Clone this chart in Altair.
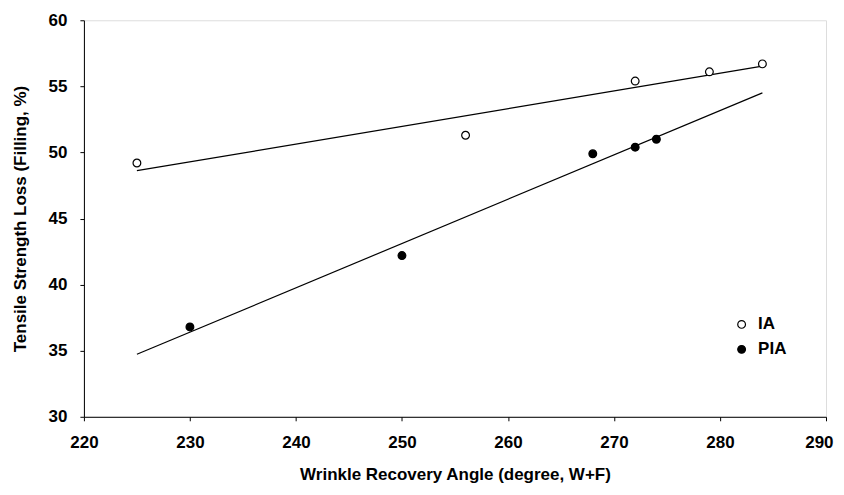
import altair as alt
import pandas as pd

ia_x = [225, 256, 272, 279, 284]
ia_y = [49.2, 51.3, 55.4, 56.1, 56.7]
pia_x = [230, 250, 268, 272, 274]
pia_y = [36.8, 42.2, 49.9, 50.4, 51.0]
series_names = ["IA", "PIA"]
x_ticks = [220, 230, 240, 250, 260, 270, 280, 290]
y_ticks = [30, 35, 40, 45, 50, 55, 60]

rows = [{"x": a, "y": b, "series": "IA"} for a, b in zip(ia_x, ia_y)]
rows += [{"x": a, "y": b, "series": "PIA"} for a, b in zip(pia_x, pia_y)]
df = pd.DataFrame(rows)

FONT = "Liberation Sans"
FS = 17

xenc = alt.X("x:Q", scale=alt.Scale(domain=[220, 290], nice=False),
             axis=alt.Axis(values=x_ticks, title="Wrinkle Recovery Angle (degree, W+F)",
                           grid=False, tickSize=4, labelPadding=14, titlePadding=16,
                           labelFontSize=FS, titleFontSize=FS, labelFontWeight="bold",
                           titleFontWeight="bold", labelFont=FONT, titleFont=FONT,
                           labelColor="black", titleColor="black", domainColor="black",
                           tickColor="black", labelFlush=False,
                           labelAlign={"condition": {"test": "datum.value >= 290", "value": "right"},
                                       "value": "center"},
                           labelOffset={"condition": {"test": "datum.value >= 290", "value": 7},
                                        "value": 0}))
yenc = alt.Y("y:Q", scale=alt.Scale(domain=[30, 60], nice=False, zero=False),
             axis=alt.Axis(values=y_ticks, title="Tensile Strength Loss (Filling, %)",
                           grid=False, tickSize=4, labelPadding=13, titlePadding=19,
                           labelFontSize=FS, titleFontSize=FS, labelFontWeight="bold",
                           titleFontWeight="bold", labelFont=FONT, titleFont=FONT,
                           labelColor="black", titleColor="black", domainColor="black",
                           tickColor="black", labelFlush=False))

base = alt.Chart(df)

lines = base.transform_regression(
    "x", "y", groupby=["series"], extent=[225, 284]
).mark_line(color="black", strokeWidth=1.2).encode(
    x=xenc, y=yenc, detail="series:N"
)

points = base.mark_point(shape="circle", size=60, stroke="black", strokeWidth=1.2,
                         opacity=1, filled=False).encode(
    x=xenc, y=yenc,
    fill=alt.Fill("series:N",
                  scale=alt.Scale(domain=series_names, range=["white", "black"]),
                  legend=alt.Legend(title=None, orient="none", legendX=650, legendY=296,
                                    labelFontSize=FS, labelFontWeight="bold", labelFont=FONT,
                                    labelColor="black", symbolType="circle", symbolSize=60,
                                    symbolStrokeColor="black", symbolStrokeWidth=1.2,
                                    rowPadding=7, labelOffset=8)),
)

chart = alt.layer(lines, points).properties(
    width=743, height=397,
    padding={"left": 76, "top": 12, "right": 10, "bottom": 66},
    autosize=alt.AutoSizeParams(type="none"),
).configure_view(stroke="black", strokeWidth=1.2).configure(background="white")

chart.save("out.html", embed_options={"renderer": "svg", "actions": False})
